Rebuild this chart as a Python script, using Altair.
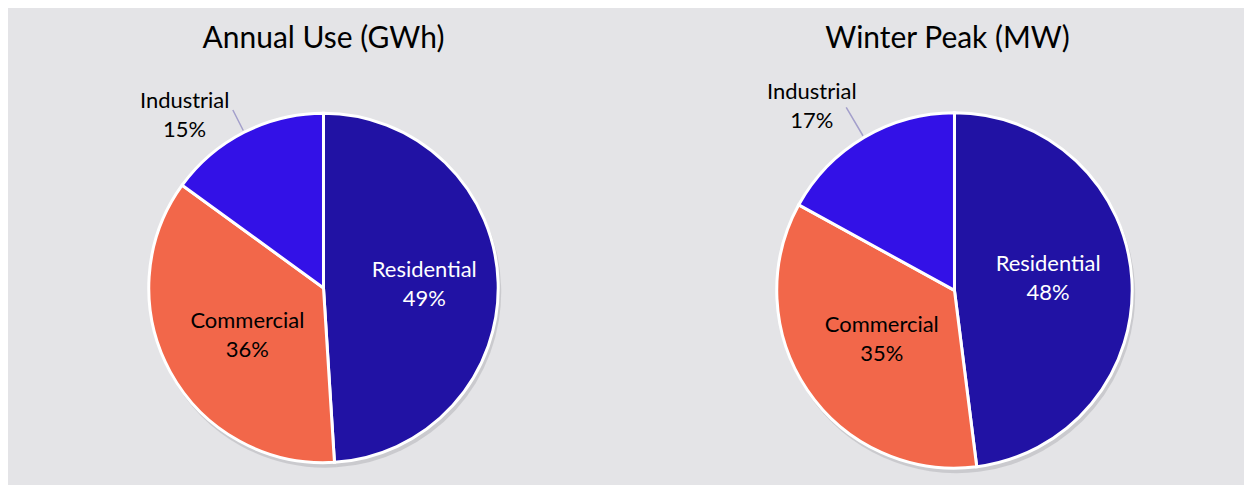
import altair as alt
import pandas as pd

categories = ["Residential", "Commercial", "Industrial"]
annual_use_pct = [49, 36, 15]
winter_peak_pct = [48, 35, 17]

titles = ["Annual Use (GWh)", "Winter Peak (MW)"]
slice_colors = ["#2112A4", "#F2674A", "#3311E7"]
FONT = "Lato"
LINE_H = 29


def make_df(values):
    return pd.DataFrame({"category": categories, "value": values, "order": list(range(len(categories)))})


def pie(values, title, radius, shift, title_dx, out_dx, out_dy, res_r, res_dy, com_r, com_dy, leader_len):
    base = (
        alt.Chart(make_df(values))
        .transform_joinaggregate(total="sum(value)")
        .transform_window(cum="sum(value)", sort=[alt.SortField("order")], frame=[None, 0])
        .transform_calculate(
            end="2*PI*datum.cum/datum.total",
            start="2*PI*(datum.cum-datum.value)/datum.total",
        )
        .transform_calculate(
            mid="(datum.start+datum.end)/2",
            label="datum.category + '\\n' + datum.value + '%'",
        )
    )
    th = alt.Theta("start:Q", scale=None)
    th2 = alt.Theta2("end:Q")

    shadow = base.mark_arc(
        outerRadius=radius + 1, fill="#9a9aa0", opacity=0.35, xOffset=2, yOffset=shift + 4
    ).encode(theta=th, theta2=th2)

    slices = base.mark_arc(outerRadius=radius, stroke="white", strokeWidth=3, yOffset=shift).encode(
        theta=th,
        theta2=th2,
        color=alt.Color("category:N", scale=alt.Scale(domain=categories, range=slice_colors), legend=None),
        tooltip=["category:N", "value:Q"],
    )

    mid = alt.Theta("mid:Q", scale=None)
    text_common = dict(font=FONT, fontSize=22, lineBreak="\n", lineHeight=LINE_H, align="center",
                       baseline="middle", yOffset=shift)
    half = -LINE_H / 2

    lab_res = base.transform_filter("datum.category == 'Residential'").mark_text(
        radius=res_r, color="white", dy=half + res_dy, **text_common
    ).encode(theta=mid, text="label:N")
    lab_com = base.transform_filter("datum.category == 'Commercial'").mark_text(
        radius=com_r, color="black", dy=half + com_dy, **text_common
    ).encode(theta=mid, text="label:N")

    leader = base.transform_filter("datum.category == 'Industrial'").mark_arc(
        radius=radius + 2, radius2=radius + leader_len, stroke="#A39FCB", strokeWidth=1.5, fillOpacity=0,
        yOffset=shift,
    ).encode(theta=mid, theta2=alt.Theta2("mid:Q"))

    lab_ind = base.transform_filter("datum.category == 'Industrial'").mark_text(
        radius=radius + 30, color="black", dx=out_dx, dy=out_dy + half, **text_common
    ).encode(theta=mid, text="label:N")

    return alt.layer(shadow, slices, leader, lab_res, lab_com, lab_ind).properties(
        width=580,
        height=417,
        title=alt.TitleParams(
            text=title, font=FONT, fontSize=30, fontWeight="normal", color="black",
            anchor="middle", offset=14, dx=title_dx,
        ),
    )


left = pie(annual_use_pct, titles[0], 175, 11.5, 0, -46, 10, 101, 0, 87, 6, 25)
right = pie(winter_peak_pct, titles[1], 178, 14, -7, -37, -5, 94, -6, 88, 0, 35)

chart = (
    alt.hconcat(left, right, spacing=52)
    .properties(padding={"left": 26, "top": 16, "right": 0, "bottom": 0}, background="#E4E4E7")
    .configure_view(stroke=None)
)

chart.save("out.html", embed_options={"renderer": "svg", "actions": False})
